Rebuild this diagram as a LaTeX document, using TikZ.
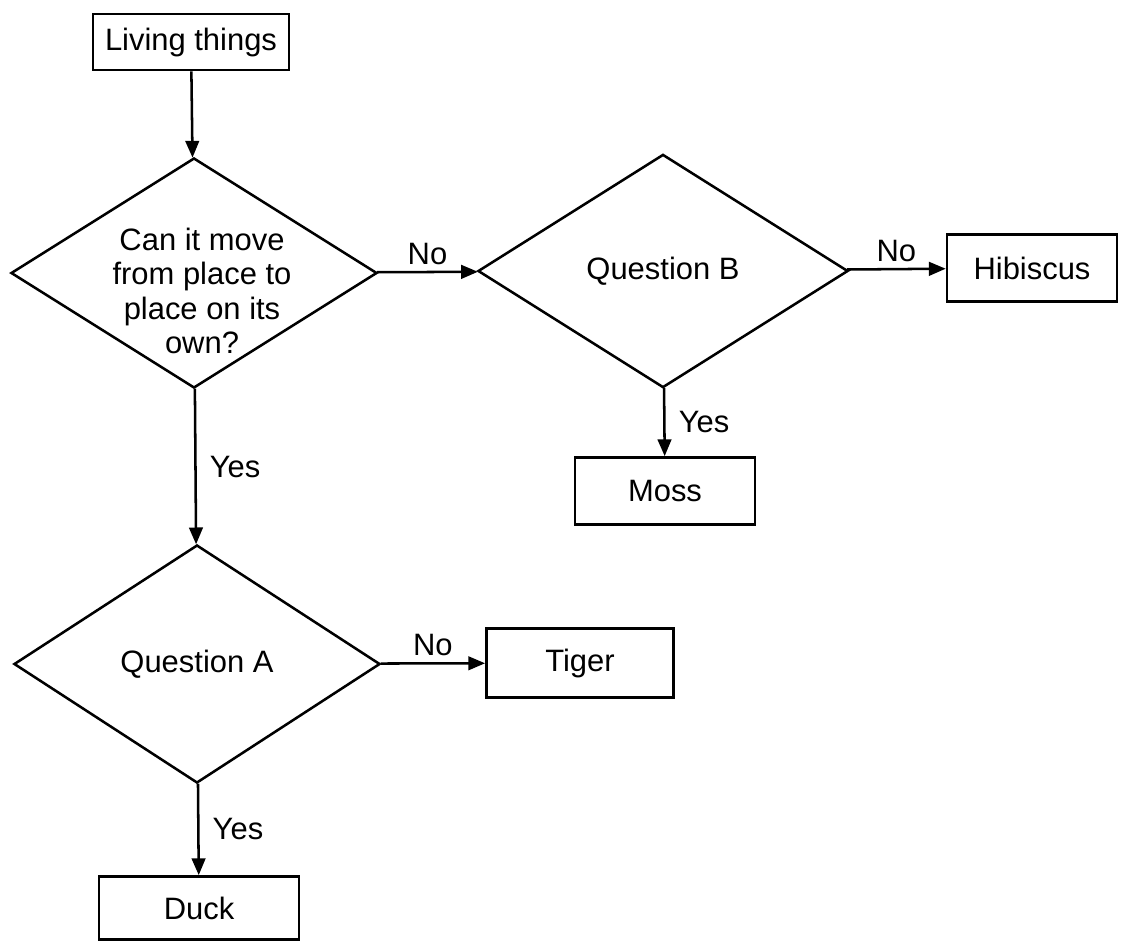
\documentclass[tikz,border=0pt]{standalone}
\usepackage{fontspec}
\setmainfont{Liberation Sans}
\usetikzlibrary{shapes.geometric,arrows.meta}

\begin{document}
\begin{tikzpicture}[x=0.025cm, y=-0.025cm,
		every node/.style={font=\fontsize{22}{24.5}\selectfont},
		box/.style={rectangle, draw, line width=1.8pt},
		question/.style={diamond, draw, line width=1.8pt, inner sep=0pt},
		arr/.style={-{Triangle[length=0.42cm,width=0.34cm]}, line width=1.8pt}]
	\useasboundingbox (0,0) rectangle (1132,943);

	\node[box, minimum width=4.9cm, minimum height=1.4cm] (living) at (191,42) {Living things};
	\node[question, minimum width=9.15cm, minimum height=5.75cm] (move) at (194,273) {};
	\node[align=center] (movetext) at (202,291) {Can it move\\from place to\\place on its\\own?};
	\node[question, minimum width=9.25cm, minimum height=5.83cm] (qB) at (663,271) {Question B};
	\node[box, minimum width=4.25cm, minimum height=1.68cm] (hibiscus) at (1032,268) {Hibiscus};
	\node[box, minimum width=4.5cm, minimum height=1.68cm] (moss) at (665,491) {Moss};
	\node[question, minimum width=9.15cm, minimum height=5.95cm] (qA) at (197,664) {Question A};
	\node[box, minimum width=4.68cm, minimum height=1.73cm] (tiger) at (580,663) {Tiger};
	\node[box, minimum width=5cm, minimum height=1.58cm] (duck) at (199,908) {Duck};

	\draw[arr] (living) -- (move);
	\draw[arr] (move) -- node[above=1pt] (noB) {No} (qB);
	\draw[arr] (qB) -- node[above=1pt] (noHib) {No} (hibiscus);
	\draw[arr] (qB) -- node[right=6pt] (yesMoss) {Yes} (moss);
	\draw[arr] (move) -- node[right=6pt] (yesA) {Yes} (qA);
	\draw[arr] (qA) -- node[above=1pt] (noTiger) {No} (tiger);
	\draw[arr] (qA) -- node[right=6pt] (yesDuck) {Yes} (duck);
\end{tikzpicture}
\end{document}
